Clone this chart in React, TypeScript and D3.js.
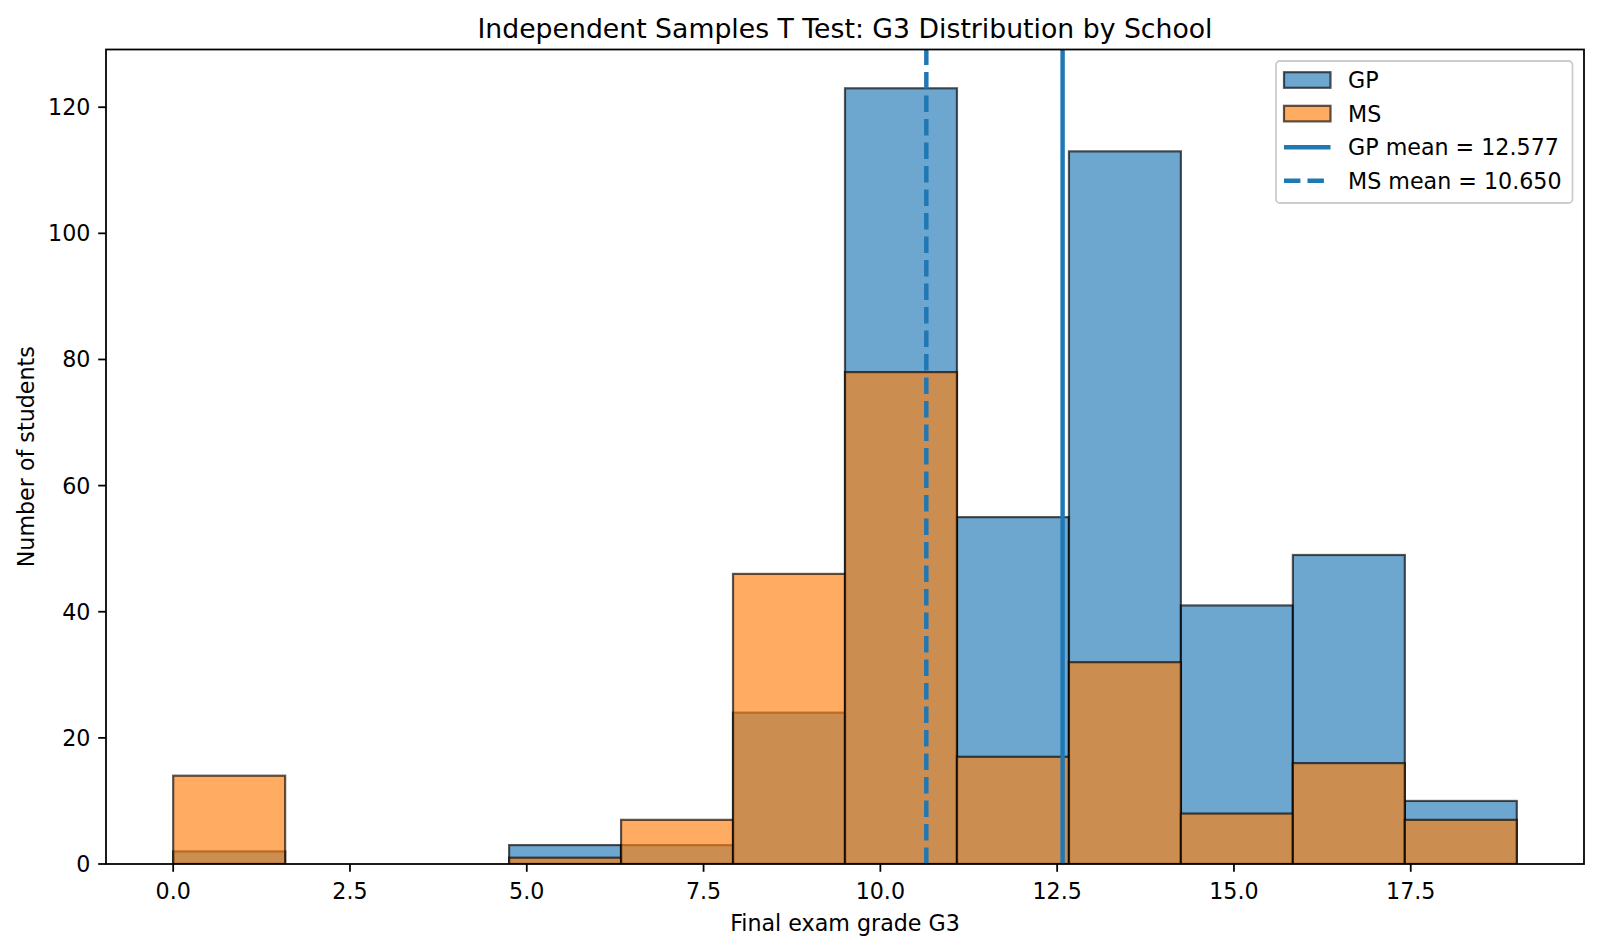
import React from 'react';
import * as d3 from 'd3';

// histogram bins (12 equal bins over 0..19)
const binEdges = [0, 1.5833, 3.1667, 4.75, 6.3333, 7.9167, 9.5, 11.0833, 12.6667, 14.25, 15.8333, 17.4167, 19];
const gpCounts = [2, 0, 0, 3, 3, 24, 123, 55, 113, 41, 49, 10];
const msCounts = [14, 0, 0, 1, 7, 46, 78, 17, 32, 8, 16, 7];
const gpMean = 12.577;
const msMean = 10.65;
const xTicks = [0, 2.5, 5, 7.5, 10, 12.5, 15, 17.5];
const yTicks = [0, 20, 40, 60, 80, 100, 120];

const W = 1600;
const H = 951;
const margin = { top: 49.5, right: 16, bottom: 87, left: 106 };
const FONT = 'DejaVu Sans, sans-serif';
const FS = 22.2;
const blue = '#1f77b4';
const orange = '#ff7f0e';
const ALPHA = 0.65;
const DASH = '16.4 7.1';

export default function App() {
  const x = d3.scaleLinear()
    .domain([-0.95, 19.95])
    .range([margin.left, W - margin.right]);
  const y = d3.scaleLinear()
    .domain([0, 129.15])
    .range([H - margin.bottom, margin.top]);

  const x0 = margin.left;
  const x1 = W - margin.right;
  const y0 = H - margin.bottom;
  const y1 = margin.top;
  const midX = (x0 + x1) / 2;
  const midY = (y0 + y1) / 2;

  const bars = (counts: number[], color: string, key: string) =>
    counts.map((c, i) => (
      <rect
        key={key + i}
        x={x(binEdges[i])}
        y={y(c)}
        width={x(binEdges[i + 1]) - x(binEdges[i])}
        height={y(0) - y(c)}
        fill={color}
        fillOpacity={ALPHA}
        stroke="#000"
        strokeOpacity={ALPHA}
        strokeWidth={2.2}
      />
    ));

  const legendItems = [
    { label: 'GP', kind: 'patch', color: blue },
    { label: 'MS', kind: 'patch', color: orange },
    { label: 'GP mean = 12.577', kind: 'line', color: blue },
    { label: 'MS mean = 10.650', kind: 'dash', color: blue },
  ];

  return (
    <svg width={W} height={H} style={{ position: 'absolute', left: 0, top: 0 }} fontFamily={FONT}>
      <rect x={0} y={0} width={W} height={H} fill="#fff" />
      <defs>
        <clipPath id="plot">
          <rect x={x0} y={y1} width={x1 - x0} height={y0 - y1} />
        </clipPath>
      </defs>
      <g clipPath="url(#plot)">
        {bars(gpCounts, blue, 'gp')}
        {bars(msCounts, orange, 'ms')}
        <line x1={x(gpMean)} x2={x(gpMean)} y1={y0} y2={y1} stroke={blue} strokeWidth={4.44} />
        <line x1={x(msMean)} x2={x(msMean)} y1={y0} y2={y1} stroke={blue} strokeWidth={4.44} strokeDasharray={DASH} />
      </g>

      {/* spines */}
      <rect x={x0} y={y1} width={x1 - x0} height={y0 - y1} fill="none" stroke="#000" strokeWidth={1.78} />

      {/* x axis */}
      {xTicks.map(t => (
        <g key={'x' + t}>
          <line x1={x(t)} x2={x(t)} y1={y0} y2={y0 + 7.8} stroke="#000" strokeWidth={1.78} />
          <text x={x(t)} y={y0 + 35} textAnchor="middle" fontSize={FS} fill="#000">{t.toFixed(1)}</text>
        </g>
      ))}
      {/* y axis */}
      {yTicks.map(t => (
        <g key={'y' + t}>
          <line x1={x0 - 7.8} x2={x0} y1={y(t)} y2={y(t)} stroke="#000" strokeWidth={1.78} />
          <text x={x0 - 15.6} y={y(t) + 8} textAnchor="end" fontSize={FS} fill="#000">{t}</text>
        </g>
      ))}

      <text x={midX} y={931} textAnchor="middle" fontSize={FS} fill="#000">Final exam grade G3</text>
      <text transform={`translate(33.5, ${midY}) rotate(-90)`} textAnchor="middle" fontSize={FS} fill="#000">Number of students</text>
      <text x={midX} y={37.5} textAnchor="middle" fontSize={26.7} fill="#000">Independent Samples T Test: G3 Distribution by School</text>

      {/* legend */}
      <g>
        <rect x={1276} y={61} width={296.5} height={142} rx={4} fill="#fff" fillOpacity={0.8} stroke="#ccc" strokeWidth={1.78} />
        {legendItems.map((d, i) => {
          const cy = 80 + i * 33.6;
          return (
            <g key={d.label}>
              {d.kind === 'patch' ? (
                <rect x={1284} y={cy - 7.8} width={46.5} height={15.6} fill={d.color} fillOpacity={ALPHA} stroke="#000" strokeOpacity={ALPHA} strokeWidth={2.2} />
              ) : (
                <line x1={1284} x2={1330.5} y1={cy} y2={cy} stroke={d.color} strokeWidth={4.44}
                  strokeDasharray={d.kind === 'dash' ? DASH : undefined} />
              )}
              <text x={1348} y={cy + 8} fontSize={FS} fill="#000">{d.label}</text>
            </g>
          );
        })}
      </g>
    </svg>
  );
}
